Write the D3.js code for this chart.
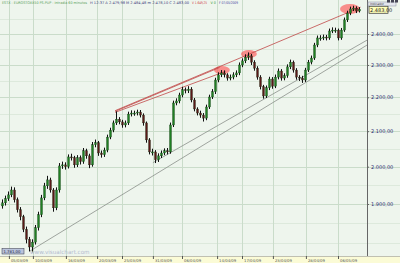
<!DOCTYPE html>
<html>
<head>
<meta charset="utf-8">
<script src="https://cdn.jsdelivr.net/npm/d3@7"></script>
<style>
  body { margin: 0; background: #fff; }
  svg { display: block; font-family: "DejaVu Sans", sans-serif; }
</style>
</head>
<body>
<div id="chart"></div>
<script>
// EuroStoxx 50 candles, early March -> early May 2009
const opens = [
  1895,1903,1914,1924,1937,1911,1885,1867,1835,1810,
  1791,1803,1839,1872,1916,1948,1964,1937,1890,1937,
  2002,2005,2000,2027,2025,2005,2025,2014,2044,2030,
  2005,2061,2067,2038,2033,2046,2083,2103,2124,2135,
  2127,2118,2124,2150,2153,2153,2156,2147,2124,2075,
  2041,2041,2019,2030,2038,2044,2041,2118,2183,2189,
  2207,2223,2220,2225,2192,2165,2153,2147,2138,2171,
  2201,2217,2253,2269,2275,2269,2259,2262,2269,2275,
  2300,2313,2325,2329,2309,2290,2262,2232,2204,2229,
  2256,2234,2262,2281,2259,2266,2294,2309,2284,2262,
  2259,2253,2284,2309,2322,2364,2387,2387,2390,2387,
  2410,2413,2413,2387,2413,2447,2470,2484,2487,2477
];
const highs = [
  1912,1922,1933,1946,1944,1917,1892,1872,1842,1816,
  1810,1846,1880,1924,1956,1975,1970,1942,1944,2010,
  2014,2012,2034,2036,2030,2032,2031,2052,2050,2036,
  2069,2076,2072,2045,2053,2090,2110,2131,2158,2141,
  2133,2131,2157,2161,2160,2163,2162,2152,2128,2080,
  2050,2046,2037,2045,2051,2052,2125,2190,2197,2214,
  2232,2230,2234,2231,2198,2170,2160,2153,2178,2208,
  2225,2260,2277,2284,2283,2274,2270,2277,2283,2308,
  2321,2334,2340,2335,2315,2296,2268,2238,2236,2263,
  2262,2270,2289,2287,2274,2302,2317,2314,2290,2268,
  2266,2291,2316,2330,2371,2395,2396,2398,2397,2418,
  2422,2421,2418,2420,2455,2478,2492,2495,2493,2490
];
const lows = [
  1888,1896,1908,1918,1904,1878,1858,1828,1800,1780,
  1778,1797,1832,1866,1910,1940,1930,1880,1884,1930,
  1994,1992,1995,2017,1997,1999,2006,2008,2022,1996,
  2000,2054,2030,2025,2027,2040,2077,2097,2118,2120,
  2110,2111,2118,2143,2145,2146,2140,2116,2067,2034,
  2031,2010,2013,2024,2032,2034,2036,2112,2176,2182,
  2200,2212,2213,2185,2158,2146,2139,2128,2132,2165,
  2195,2210,2246,2262,2261,2251,2252,2255,2262,2268,
  2293,2306,2316,2300,2282,2254,2224,2196,2198,2222,
  2226,2228,2255,2251,2252,2260,2287,2276,2254,2250,
  2244,2247,2278,2302,2316,2357,2378,2380,2379,2381,
  2403,2404,2379,2381,2407,2440,2463,2477,2470,2472
];
const closes = [
  1903,1914,1924,1937,1911,1885,1867,1835,1810,1791,
  1803,1839,1872,1916,1948,1964,1937,1890,1937,2002,
  2005,2000,2027,2025,2005,2025,2014,2044,2030,2005,
  2061,2067,2038,2033,2046,2083,2103,2124,2135,2127,
  2118,2124,2150,2153,2153,2156,2147,2124,2075,2041,
  2041,2019,2030,2038,2044,2041,2118,2183,2189,2207,
  2223,2220,2225,2192,2165,2153,2147,2138,2171,2201,
  2217,2253,2269,2275,2269,2259,2262,2269,2275,2300,
  2313,2325,2329,2309,2290,2262,2232,2204,2229,2256,
  2234,2262,2281,2259,2266,2294,2309,2284,2262,2259,
  2253,2284,2309,2322,2364,2387,2387,2390,2387,2410,
  2413,2413,2387,2413,2447,2470,2484,2487,2477,2483
];

const priceTicks = [1900, 2000, 2100, 2200, 2300, 2400];
const minorPriceTicks = [1800, 1850, 1950, 2050, 2150, 2250, 2350, 2450];

// date labels sit on bar indexes
const dateLabels = ["05/03/09","10/03/09","16/03/09","20/03/09","25/03/09","31/03/09",
                    "06/04/09","14/04/09","17/04/09","23/04/09","28/04/09","06/05/09"];
const dateIndex = [2.3, 10.3, 21.3, 31.7, 40, 50.3, 60, 71.7, 80, 90.3, 101.3, 112];

// trend lines as [index1, price1, index2, price2]
const redLines = [
  [37.7, 2160, 119.5, 2490],
  [37.7, 2158, 72.5, 2292],
  [37.7, 2155, 74.5, 2280]
];
const greyLines = [
  [9.3, 1781, 121.7, 2364],
  [50.3, 2011, 121.7, 2380]
];
// highlighted touches [index, price]
const touches = [[73.3, 2284], [82.3, 2335], [116, 2484]];

const lastPrice = 2483;
const cursorPrice = 1781;

const header = [
  {t: "ESTX - EUROSTOXX50 PS.PUP - Intradía 60 minutos", c: "#5aa05a", x: 2, w: 85},
  {t: "H 12:37  A 2.479,98  M 2.484,48  m 2.478,10  C 2.483,00", c: "#3a3a7a", x: 90, w: 99},
  {t: "V 1.649,25", c: "#d04040", x: 192, w: 15},
  {t: "V 0", c: "#3a9a3a", x: 210.5, w: 5.5},
  {t: "F 07/05/2009", c: "#3a3aa0", x: 219, w: 19}
];

const W = 400, H = 263;
const plotRight = 367, plotTop = 5, plotBottom = 256;

const fmt = d3.formatLocale({decimal: ",", thousands: ".", grouping: [3], currency: ["", ""]}).format(",.2f");

const svg = d3.select("#chart").append("svg")
  .attr("width", W).attr("height", H);

svg.append("rect").attr("width", W).attr("height", H).attr("fill", "#eef5ed");

const n = closes.length;
const x = d3.scaleLinear().domain([0, n - 1]).range([2, 359]);
const y = d3.scaleLog().domain([1769, 2497.6]).range([plotBottom, plotTop]);

// grid
svg.append("g").selectAll("line")
  .data(minorPriceTicks)
  .join("line")
  .attr("x1", 0).attr("x2", W)
  .attr("y1", d => Math.round(y(d)) + 0.5).attr("y2", d => Math.round(y(d)) + 0.5)
  .attr("stroke", "#dde9dc").attr("stroke-width", 1);

svg.append("g").selectAll("line")
  .data(priceTicks)
  .join("line")
  .attr("x1", 0).attr("x2", W)
  .attr("y1", d => Math.round(y(d)) + 0.5).attr("y2", d => Math.round(y(d)) + 0.5)
  .attr("stroke", "#cadcca").attr("stroke-width", 1);

svg.append("g").selectAll("line")
  .data(dateIndex)
  .join("line")
  .attr("x1", d => Math.round(x(d)) + 0.5).attr("x2", d => Math.round(x(d)) + 0.5)
  .attr("y1", 0).attr("y2", plotBottom)
  .attr("stroke", "#cadcca").attr("stroke-width", 1);

// header text, squeezed into the widths seen in the picture
svg.append("g").selectAll("text")
  .data(header)
  .join("text")
  .attr("x", d => d.x).attr("y", 4)
  .attr("fill", d => d.c)
  .attr("textLength", d => d.w)
  .attr("lengthAdjust", "spacingAndGlyphs")
  .style("font-size", "3.6px")
  .text(d => d.t);

// grey support lines
svg.append("g").selectAll("line")
  .data(greyLines)
  .join("line")
  .attr("x1", d => x(d[0])).attr("y1", d => y(d[1]))
  .attr("x2", d => x(d[2])).attr("y2", d => y(d[3]))
  .attr("stroke", "#8a8f8a").attr("stroke-width", 0.8);

// highlighted touches
svg.append("g").selectAll("ellipse")
  .data(touches)
  .join("ellipse")
  .attr("cx", d => x(d[0])).attr("cy", d => y(d[1]))
  .attr("rx", (d, i) => i == 2 ? 10 : 8).attr("ry", (d, i) => i == 2 ? 5 : 4)
  .attr("fill", "#ff4a4a").attr("opacity", 0.6);

// resistance lines
svg.append("g").selectAll("line")
  .data(redLines)
  .join("line")
  .attr("x1", d => x(d[0])).attr("y1", d => y(d[1]))
  .attr("x2", d => x(d[2])).attr("y2", d => y(d[3]))
  .attr("stroke", "#c04848").attr("stroke-width", 0.8);

// candles
const bars = d3.range(n);
svg.append("g").selectAll("line")
  .data(bars)
  .join("line")
  .attr("x1", i => Math.round(x(i)) + 0.5).attr("x2", i => Math.round(x(i)) + 0.5)
  .attr("y1", i => y(highs[i])).attr("y2", i => y(lows[i]))
  .attr("stroke", "#111").attr("stroke-width", 1);

svg.append("g").selectAll("rect")
  .data(bars)
  .join("rect")
  .attr("x", i => Math.round(x(i)) - 0.5)
  .attr("width", 2)
  .attr("y", i => y(Math.max(opens[i], closes[i])))
  .attr("height", i => Math.max(1, Math.abs(y(opens[i]) - y(closes[i]))))
  .attr("fill", i => closes[i] >= opens[i] ? "#1f7f22" : "#5a1818")
  .attr("stroke", "#0d2a0d").attr("stroke-width", 0.3);

// right price panel
svg.append("line")
  .attr("x1", plotRight + 0.5).attr("x2", plotRight + 0.5)
  .attr("y1", 0).attr("y2", plotBottom)
  .attr("stroke", "#666").attr("stroke-width", 1);

const yAxis = svg.append("g")
  .attr("transform", `translate(${plotRight},0)`)
  .call(d3.axisRight(y).tickValues(priceTicks).tickFormat(fmt).tickSize(2).tickPadding(2));
yAxis.select(".domain").remove();
yAxis.selectAll("line").attr("stroke", "#666");
yAxis.selectAll("text")
  .attr("fill", "#2b2b72")
  .style("font-size", "5px")
  .style("font-family", "DejaVu Sans");

// last price box
svg.append("rect")
  .attr("x", 368).attr("y", 2).attr("width", 28).attr("height", 4)
  .attr("fill", "#e4e6ee").attr("stroke", "#8890a0").attr("stroke-width", 0.5);
svg.append("text")
  .attr("x", 370).attr("y", 5.2).attr("fill", "#333")
  .style("font-size", "3px").text("Indicador");
svg.append("rect")
  .attr("x", 369).attr("y", y(lastPrice) - 3).attr("width", 19).attr("height", 7)
  .attr("fill", "#ffffb8").attr("stroke", "#333").attr("stroke-width", 0.7);
svg.append("text")
  .attr("x", 370).attr("y", y(lastPrice) + 2.3).attr("fill", "#222")
  .style("font-size", "5px").text(fmt(lastPrice));

// window icons top right
svg.append("g").selectAll("rect")
  .data([0, 1, 2])
  .join("rect")
  .attr("x", d => 387 + d * 4).attr("y", 0).attr("width", 3).attr("height", 2.5)
  .attr("fill", "#445");

// date axis band
svg.append("rect")
  .attr("x", 0).attr("y", plotBottom).attr("width", W).attr("height", H - plotBottom)
  .attr("fill", "#fbfbd6");
svg.append("line")
  .attr("x1", 0).attr("x2", W)
  .attr("y1", plotBottom + 0.5).attr("y2", plotBottom + 0.5)
  .attr("stroke", "#999").attr("stroke-width", 0.6);

const xAxis = svg.append("g")
  .attr("transform", `translate(0,${plotBottom})`)
  .call(d3.axisBottom(x).tickValues(dateIndex).tickFormat((d, i) => dateLabels[i]).tickSize(3).tickPadding(0.5));
xAxis.select(".domain").remove();
xAxis.selectAll("line").attr("stroke", "#555");
xAxis.selectAll("text")
  .attr("text-anchor", "start")
  .attr("x", 1.5)
  .attr("fill", "#555")
  .style("font-size", "3.8px")
  .style("font-family", "DejaVu Sans");

// cursor price box + watermark, bottom left
svg.append("rect")
  .attr("x", 2).attr("y", 248.5).attr("width", 22).attr("height", 5.5)
  .attr("fill", "#b9c3dc").attr("stroke", "#334").attr("stroke-width", 0.5);
svg.append("text")
  .attr("x", 3.5).attr("y", 252.6).attr("fill", "#223")
  .style("font-size", "3.8px").text(fmt(cursorPrice));
svg.append("text")
  .attr("x", 30).attr("y", 253.5).attr("fill", "#b4bccf")
  .style("font-size", "5.6px").text("www.visualchart.com");
</script>
</body>
</html>
